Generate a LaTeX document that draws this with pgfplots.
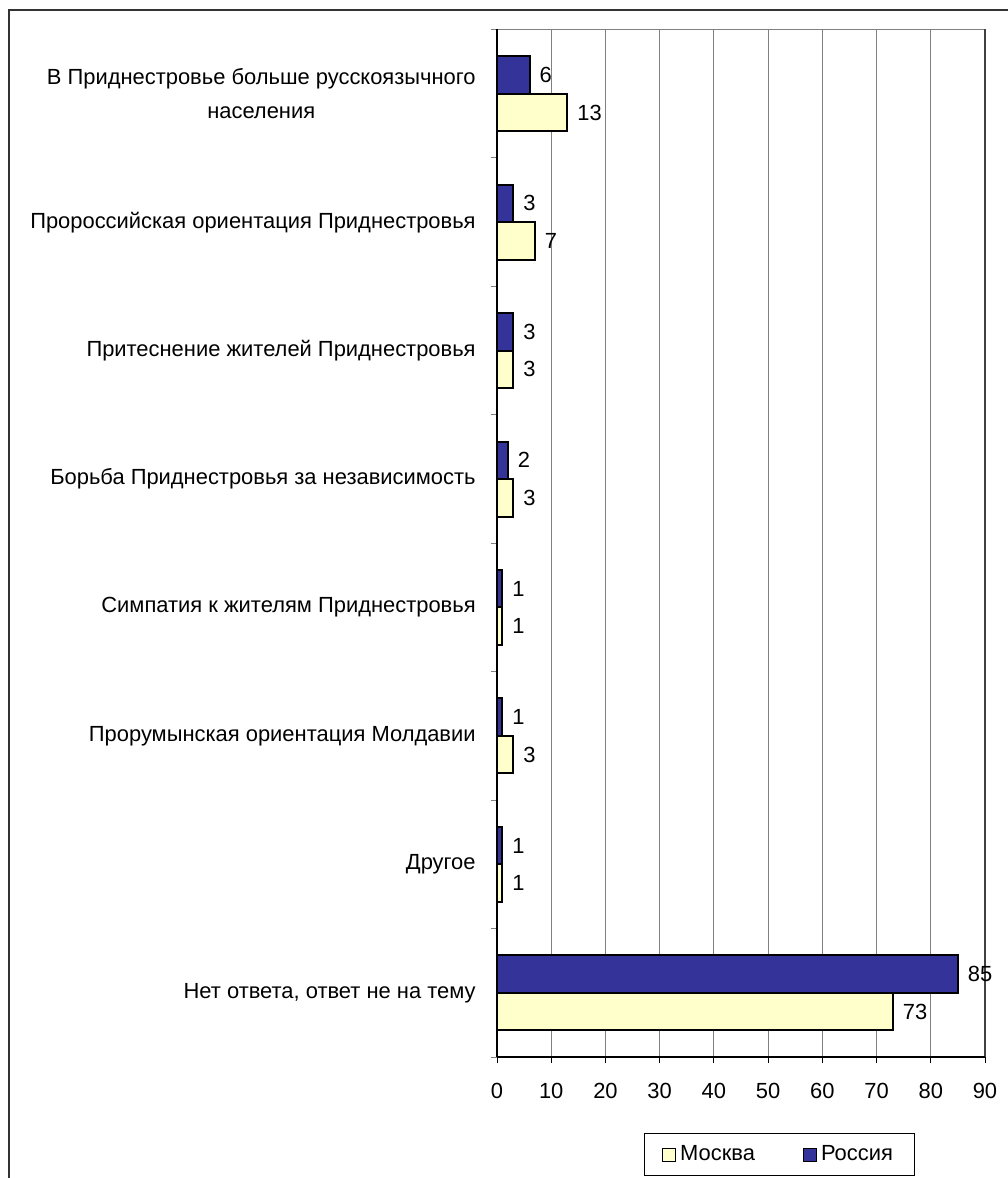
\documentclass[border=0pt]{standalone}
\usepackage{pgfplots}
\pgfplotsset{compat=1.18}
\usepackage{fontspec}
\setmainfont{Liberation Sans}

\definecolor{russia}{HTML}{333399}
\definecolor{moscow}{HTML}{FFFFCC}
\definecolor{gridgray}{HTML}{808080}

% answers, listed bottom (y=0) to top (y=7)
\pgfplotstableread{
y moscow russia
0 73 85
1 1  1
2 3  1
3 1  1
4 3  2
5 3  3
6 7  3
7 13 6
}\answers

\newcommand{\chartfont}{\fontsize{11}{17}\selectfont}

\begin{document}
\begin{tikzpicture}
\useasboundingbox (0,0) rectangle (504bp,589bp);
% outer chart frame
\draw[line width=1bp, color=black!80] (4.25bp,-5bp) -- (4.25bp,583.75bp) -- (515bp,583.75bp);

\begin{axis}[
  at={(248.5bp,60.5bp)}, anchor=south west,
  scale only axis, width=244bp, height=513.75bp,
  xmin=0, xmax=90, ymin=-0.5, ymax=7.5,
  xbar, bar width=18.75bp,
  axis line style={draw=none},
  xtick={0,10,...,90},
  xmajorgrids, major x grid style={gridgray, line width=0.5bp},
  xtick pos=lower, ytick pos=left, tick align=outside,
  major x tick style={black, line width=0.5bp},
  major tick length=3bp,
  ytick={0,...,7},
  major y tick style={draw=none},
  minor ytick={-0.5,0.5,...,7.5},
  minor y tick style={gridgray, line width=0.5bp},
  minor tick length=3bp,
  yticklabels={
    {Нет ответа, ответ не на тему},
    {Другое},
    {Прорумынская ориентация Молдавии},
    {Симпатия к жителям Приднестровья},
    {Борьба Приднестровья за независимость},
    {Притеснение жителей Приднестровья},
    {Пророссийская ориентация Приднестровья},
    {В Приднестровье больше русскоязычного\\населения}},
  yticklabel style={align=center, font=\chartfont, inner sep=0pt, anchor=east, xshift=-7.5bp},
  xticklabel style={font=\chartfont, yshift=-6.5bp},
  /pgf/number format/assume math mode=true,
  nodes near coords,
  every node near coord/.append style={font=\chartfont, black, anchor=west, inner sep=0pt, xshift=4.5bp},
  legend columns=2,
  legend style={at={(0.579,-0.074)}, anchor=north, draw=black, line width=0.5bp,
    font=\chartfont, inner xsep=9bp, inner ysep=4bp,
    /tikz/every even column/.append style={column sep=22bp}},
  legend image code/.code={\draw[#1, line width=0.5bp] (0bp,-3.25bp) rectangle (6.5bp,3.25bp);},
  clip=false,
]
\addplot[fill=moscow, draw=black, line width=1bp, bar shift=-9.375bp]
  table[x=moscow, y=y] {\answers};
\addlegendentry{Москва}
\addplot[fill=russia, draw=black, line width=1bp, bar shift=9.375bp]
  table[x=russia, y=y] {\answers};
\addlegendentry{Россия}

% plot area frame: left and bottom axes in black, top in grey, right edge darker
\draw[gridgray, line width=0.5bp] (rel axis cs:0,1) -- (rel axis cs:1,1);
\draw[black!75, line width=1bp] (rel axis cs:1,0) -- (rel axis cs:1,1);
\draw[black, line width=0.7bp] (rel axis cs:0,0) -- (rel axis cs:0,1);
\draw[black, line width=0.7bp] (rel axis cs:0,0) -- (rel axis cs:1,0);
\end{axis}
\end{tikzpicture}
\end{document}
